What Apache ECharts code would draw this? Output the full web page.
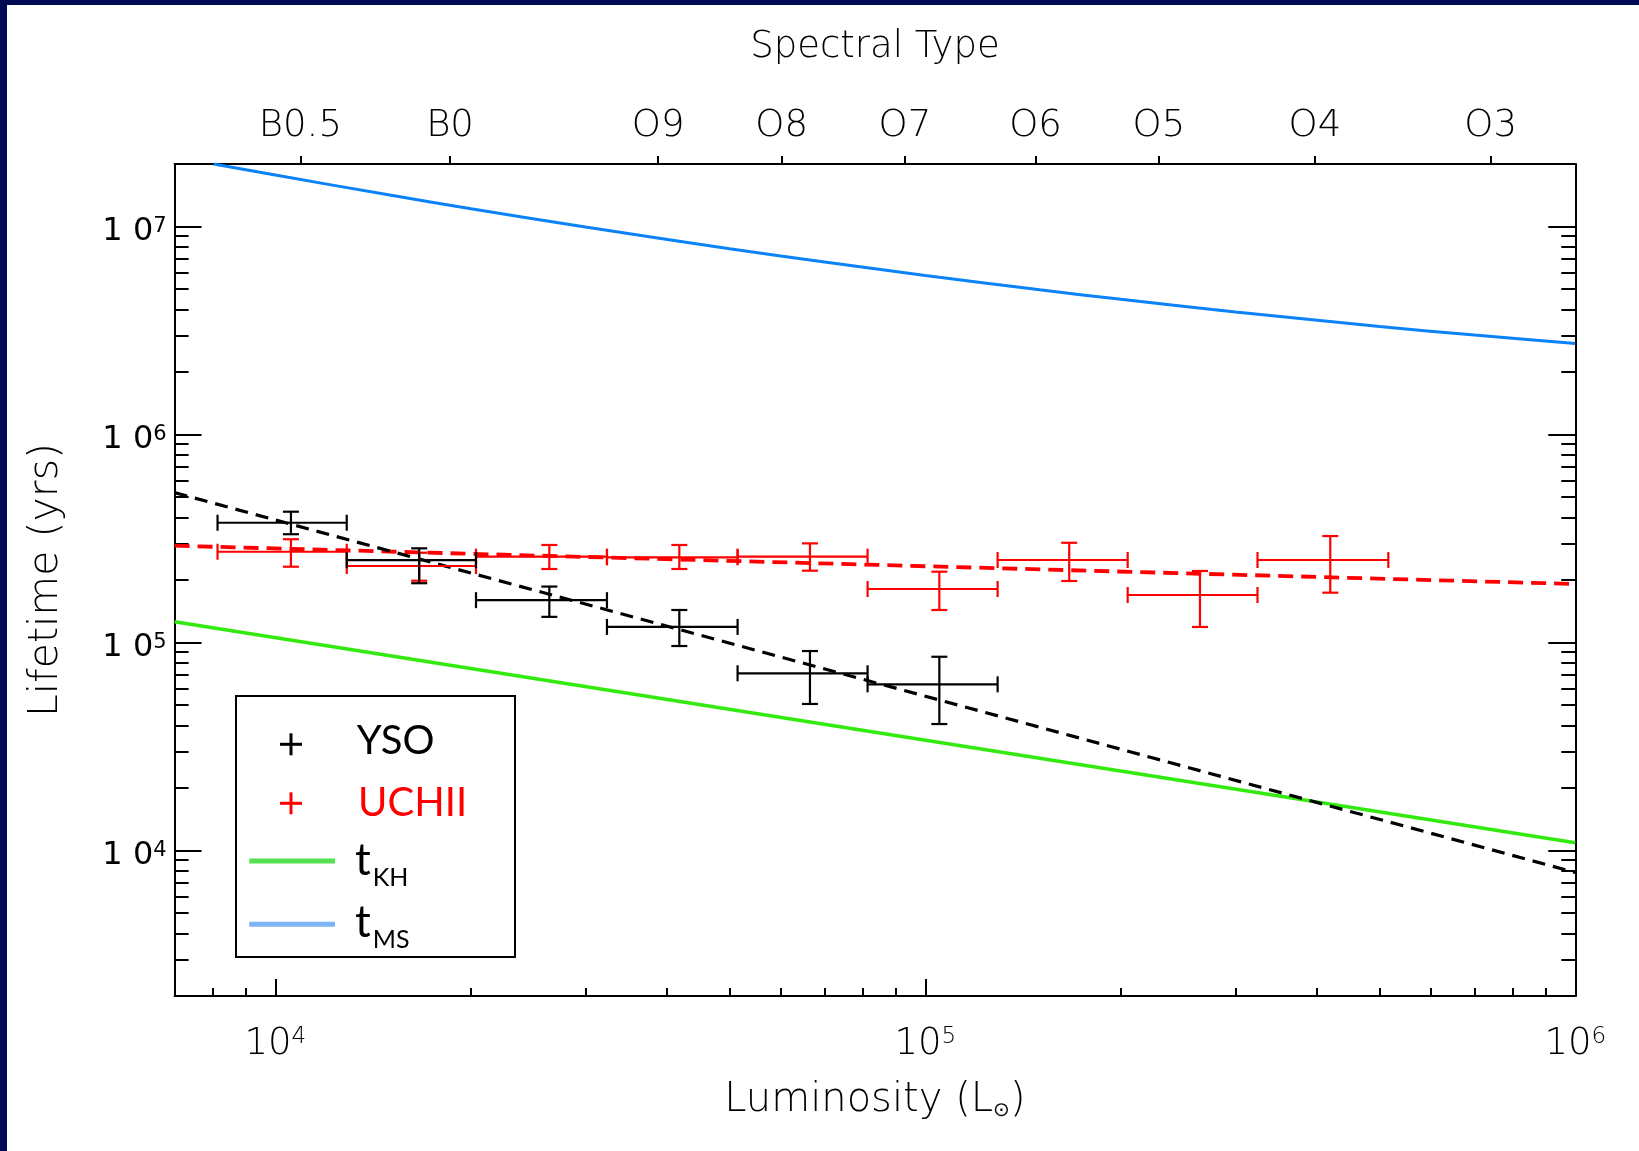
<!DOCTYPE html>
<html><head><meta charset="utf-8">
<script src="https://cdn.jsdelivr.net/npm/echarts@6/dist/echarts.min.js"></script>
<style>
html,body{margin:0;padding:0;background:#000b55;width:1639px;height:1151px;overflow:hidden}
#bg{position:absolute;left:7px;top:5px;right:0;bottom:0;background:#fff}
#chart{position:absolute;left:0;top:0;width:1639px;height:1151px}
</style></head><body><div id="bg"></div><div id="chart"></div>
<script>
// ---------------- data ----------------
const ysoL    = [10570, 16650, 26400, 41840, 66460, 105100];
const ysoLlo  = [8150, 12880, 20360, 32380, 51430, 81510];
const ysoLhi  = [12880, 20360, 32380, 51430, 81510, 129200];
const ysoT    = [377000, 249000, 160000, 119000, 71200, 63000];
const ysoTlo  = [332000, 193000, 133000, 96300, 50700, 40600];
const ysoThi  = [426000, 284000, 186000, 143500, 91100, 85500];

const uchiiL   = [10570, 16650, 26400, 41840, 66460, 105100, 166500, 264600, 419800];
const uchiiLlo = [8150, 12880, 20360, 32380, 51430, 81510, 129200, 204800, 324400];
const uchiiLhi = [12880, 20360, 32380, 51430, 81510, 129200, 204800, 324400, 515600];
const uchiiT   = [273500, 233500, 259000, 257000, 259000, 181000, 249500, 169400, 249500];
const uchiiTlo = [231700, 198400, 225900, 225900, 221700, 143500, 197800, 118900, 173800];
const uchiiThi = [314000, 270500, 294700, 294700, 300000, 219300, 302000, 221000, 325400];

const ysoFitL   = [7000, 1000000];
const ysoFitT   = [526000, 7850];
const uchiiFitL = [7000, 1000000];
const uchiiFitT = [292400, 191300];
const khL = [7000, 1000000];
const khT = [126000, 10900];
const msL = [8040, 10000, 15000, 20000, 30000, 50000, 70000, 100000, 150000, 200000, 300000, 500000, 700000, 1000000];
const msT = [20000000, 17700000, 14180000, 12200000, 9960000, 7830000, 6760000, 5820000, 4970000, 4470000, 3890000, 3310000, 3010000, 2740000];

// ---------------- tick labels ----------------
const spectralNames = ['B0.5', 'B0', 'O9', 'O8', 'O7', 'O6', 'O5', 'O4', 'O3'];
const spectralL     = [10930, 18570, 38810, 60120, 93040, 147800, 228800, 397600, 740800];
const xMajor = [10000, 100000, 1000000];
const xMinor = [8000, 9000, 20000, 30000, 40000, 50000, 60000, 70000, 80000, 90000,
                200000, 300000, 400000, 500000, 600000, 700000, 800000, 900000];
const yMajor = [10000, 100000, 1000000, 10000000];
const yMinor = [3000, 4000, 5000, 6000, 7000, 8000, 9000,
                20000, 30000, 40000, 50000, 60000, 70000, 80000, 90000,
                200000, 300000, 400000, 500000, 600000, 700000, 800000, 900000,
                2000000, 3000000, 4000000, 5000000, 6000000, 7000000, 8000000, 9000000];

// ---------------- chart ----------------
const AXF = "'DejaVu Sans', sans-serif";
const LGF = "Lato, 'Open Sans', sans-serif";
const chart = echarts.init(document.getElementById('chart'), null, {renderer: 'canvas'});

function pow10Label(v) {
  const e = Math.round(Math.log10(v));
  return '{b|10}{s|' + e + '}';
}
function pow10LabelY(v) {
  const e = Math.round(Math.log10(v));
  return '{b|1 0}{s|' + e + '}';
}
function spectralLabel(v) {
  let best = 0, bd = Infinity;
  spectralL.forEach((x, i) => { const d = Math.abs(Math.log(x) - Math.log(v)); if (d < bd) { bd = d; best = i; } });
  return spectralNames[best];
}

const blk = {color: '#000', width: 2};
function xAx(extra) {
  return Object.assign({
    type: 'log', logBase: 10, min: 7000, max: 1000000, gridIndex: 0,
    splitLine: {show: false}, minorTick: {show: false}, minorSplitLine: {show: false}
  }, extra);
}
function yAx(extra) {
  return Object.assign({
    type: 'log', logBase: 10, min: 2000, max: 20000000, gridIndex: 0,
    splitLine: {show: false}, minorTick: {show: false}, minorSplitLine: {show: false}
  }, extra);
}

function errData(L, Llo, Lhi, T, Tlo, Thi) {
  return L.map((x, i) => [x, T[i], Llo[i], Lhi[i], Tlo[i], Thi[i]]);
}
function errRender(color) {
  return function (params, api) {
    const c  = api.coord([api.value(0), api.value(1)]);
    const xl = api.coord([api.value(2), api.value(1)])[0];
    const xh = api.coord([api.value(3), api.value(1)])[0];
    const yl = api.coord([api.value(0), api.value(4)])[1];
    const yh = api.coord([api.value(0), api.value(5)])[1];
    const cap = 8;
    const st = {stroke: color, lineWidth: 2.2, fill: null};
    const L = (x1, y1, x2, y2) => ({type: 'line', shape: {x1, y1, x2, y2}, style: st});
    return {type: 'group', children: [
      L(xl, c[1], xh, c[1]),
      L(xl, c[1] - cap, xl, c[1] + cap),
      L(xh, c[1] - cap, xh, c[1] + cap),
      L(c[0], yl, c[0], yh),
      L(c[0] - cap, yl, c[0] + cap, yl),
      L(c[0] - cap, yh, c[0] + cap, yh)
    ]};
  };
}
const zip = (a, b) => a.map((v, i) => [v, b[i]]);

const option = {
  animation: false,
  backgroundColor: 'transparent',
  grid: {left: 174.6, right: 63.7, top: 164, bottom: 155, containLabel: false, outerBoundsMode: 'none'},
  xAxis: [
    xAx({
      position: 'bottom',
      axisLine: {show: true, onZero: false, lineStyle: blk},
      axisTick: {show: true, inside: true, length: 17, lineStyle: blk, customValues: xMajor},
      axisLabel: {show: true, margin: 30, customValues: xMajor, formatter: pow10Label,
        rich: {
          b: {fontFamily: AXF, fontWeight: 200, fontSize: 37, lineHeight: 37, color: '#000', verticalAlign: 'bottom'},
          s: {fontFamily: AXF, fontWeight: 200, fontSize: 23, lineHeight: 23, color: '#000', verticalAlign: 'top'}
        }},
      name: '{n|Luminosity (L}{sun|⊙}{n|)}',
      nameLocation: 'middle', nameGap: 85, nameMoveOverlap: false,
      nameTextStyle: {rich: {
        n: {fontFamily: AXF, fontWeight: 200, fontSize: 40, lineHeight: 40, color: '#000'},
        sun: {fontFamily: AXF, fontWeight: 200, fontSize: 20, lineHeight: 20, padding: [20, 0, 0, 0], color: '#000'}
      }}
    }),
    xAx({
      position: 'bottom',
      axisLine: {show: false},
      axisTick: {show: true, inside: true, length: 8, lineStyle: blk, customValues: xMinor},
      axisLabel: {show: false}
    }),
    xAx({
      position: 'top',
      axisLine: {show: true, onZero: false, lineStyle: blk},
      axisTick: {show: true, inside: false, length: 8, lineStyle: blk, customValues: spectralL},
      axisLabel: {show: true, margin: 19, customValues: spectralL, formatter: spectralLabel,
        fontFamily: AXF, fontWeight: 200, fontSize: 37, lineHeight: 37, color: '#000'},
      name: 'Spectral Type', nameLocation: 'middle', nameGap: 98.5, nameMoveOverlap: false,
      nameTextStyle: {fontFamily: AXF, fontWeight: 200, fontSize: 37, lineHeight: 37, color: '#000'}
    })
  ],
  yAxis: [
    yAx({
      position: 'left',
      axisLine: {show: true, onZero: false, lineStyle: blk},
      axisTick: {show: true, inside: true, length: 27, lineStyle: blk, customValues: yMajor},
      axisLabel: {show: true, margin: 8, customValues: yMajor, formatter: pow10LabelY, padding: [10, 0, 0, 0],
        rich: {
          b: {fontFamily: AXF, fontWeight: 'normal', fontSize: 32, lineHeight: 32, color: '#000', verticalAlign: 'bottom'},
          s: {fontFamily: AXF, fontWeight: 'normal', fontSize: 21, lineHeight: 21, padding: [0, 0, 18, 0], color: '#000', verticalAlign: 'top'}
        }},
      name: 'Lifetime (yrs)', nameLocation: 'middle', nameGap: 108, nameMoveOverlap: false,
      nameTextStyle: {fontFamily: AXF, fontWeight: 200, fontSize: 41, lineHeight: 41, color: '#000'}
    }),
    yAx({
      position: 'left',
      axisLine: {show: false},
      axisTick: {show: true, inside: true, length: 14, lineStyle: blk, customValues: yMinor},
      axisLabel: {show: false}
    }),
    yAx({
      position: 'right',
      axisLine: {show: true, onZero: false, lineStyle: blk},
      axisTick: {show: true, inside: true, length: 27, lineStyle: blk, customValues: yMajor},
      axisLabel: {show: false}
    }),
    yAx({
      position: 'right',
      axisLine: {show: false},
      axisTick: {show: true, inside: true, length: 14, lineStyle: blk, customValues: yMinor},
      axisLabel: {show: false}
    })
  ],
  series: [
    {name: 't_MS', type: 'line', xAxisIndex: 0, yAxisIndex: 0, data: zip(msL, msT), smooth: 0.3,
      showSymbol: false, lineStyle: {color: '#0a82f8', width: 3}, z: 3},
    {name: 't_KH', type: 'line', xAxisIndex: 0, yAxisIndex: 0, data: zip(khL, khT),
      showSymbol: false, lineStyle: {color: '#33ea0e', width: 3.5}, z: 3},
    {name: 'UCHII fit', type: 'line', xAxisIndex: 0, yAxisIndex: 0, data: zip(uchiiFitL, uchiiFitT),
      showSymbol: false, lineStyle: {color: '#ff0000', width: 3.8, type: [15, 8]}, z: 4},
    {name: 'YSO fit', type: 'line', xAxisIndex: 0, yAxisIndex: 0, data: zip(ysoFitL, ysoFitT),
      showSymbol: false, lineStyle: {color: '#000000', width: 3.2, type: [13, 8]}, z: 4},
    {name: 'UCHII', type: 'custom', xAxisIndex: 0, yAxisIndex: 0,
      data: errData(uchiiL, uchiiLlo, uchiiLhi, uchiiT, uchiiTlo, uchiiThi),
      encode: {x: 0, y: 1}, renderItem: errRender('#ff0000'), z: 5},
    {name: 'YSO', type: 'custom', xAxisIndex: 0, yAxisIndex: 0,
      data: errData(ysoL, ysoLlo, ysoLhi, ysoT, ysoTlo, ysoThi),
      encode: {x: 0, y: 1}, renderItem: errRender('#000000'), z: 5}
  ],
  graphic: [
    {type: 'rect', z: 100, shape: {x: 236, y: 696, width: 279, height: 261},
      style: {fill: '#fff', stroke: '#000', lineWidth: 2}},
    {type: 'line', z: 101, shape: {x1: 280, y1: 744.3, x2: 302, y2: 744.3}, style: {stroke: '#000', lineWidth: 3}},
    {type: 'line', z: 101, shape: {x1: 291, y1: 733.3, x2: 291, y2: 755.3}, style: {stroke: '#000', lineWidth: 3}},
    {type: 'line', z: 101, shape: {x1: 280, y1: 803.3, x2: 302, y2: 803.3}, style: {stroke: '#ff0000', lineWidth: 3}},
    {type: 'line', z: 101, shape: {x1: 291, y1: 792.3, x2: 291, y2: 814.3}, style: {stroke: '#ff0000', lineWidth: 3}},
    {type: 'line', z: 101, shape: {x1: 249.3, y1: 861, x2: 335, y2: 861}, style: {stroke: '#55e04f', lineWidth: 5}},
    {type: 'line', z: 101, shape: {x1: 249.3, y1: 924.3, x2: 335, y2: 924.3}, style: {stroke: '#7cb4f6', lineWidth: 5}},
    {type: 'text', z: 101, x: 356.7, y: 741, style: {text: 'YSO', fontFamily: LGF, fontSize: 40, fill: '#000', align: 'left', verticalAlign: 'middle'}},
    {type: 'text', z: 101, x: 358, y: 802.7, style: {text: 'UCHII', fontFamily: LGF, fontSize: 40, fill: '#ff0000', align: 'left', verticalAlign: 'middle'}},
    {type: 'text', z: 101, x: 355, y: 861, style: {text: 't', fontFamily: LGF, fontSize: 44, fill: '#000', align: 'left', verticalAlign: 'middle'}},
    {type: 'text', z: 101, x: 372.7, y: 878, style: {text: 'KH', fontFamily: LGF, fontSize: 25, fill: '#000', align: 'left', verticalAlign: 'middle'}},
    {type: 'text', z: 101, x: 355, y: 923, style: {text: 't', fontFamily: LGF, fontSize: 44, fill: '#000', align: 'left', verticalAlign: 'middle'}},
    {type: 'text', z: 101, x: 372.7, y: 939.5, style: {text: 'MS', fontFamily: LGF, fontSize: 25, fill: '#000', align: 'left', verticalAlign: 'middle'}}
  ]
};
chart.setOption(option);
</script></body></html>
